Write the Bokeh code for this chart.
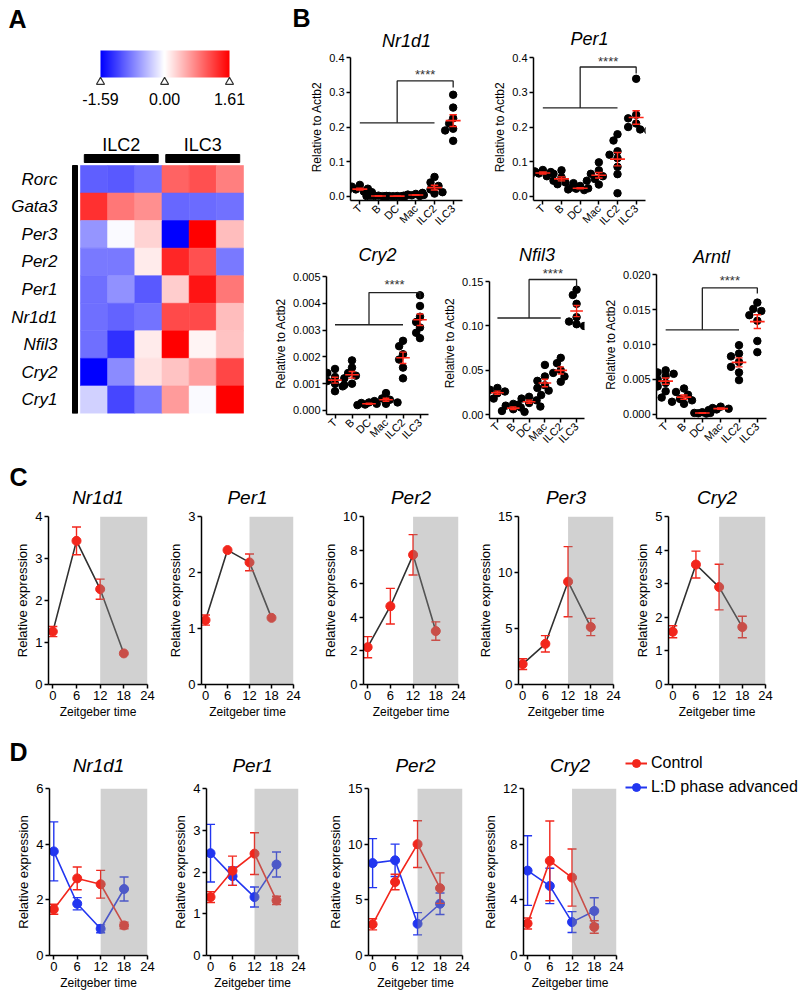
import math
import numpy as np
from bokeh.plotting import figure
from bokeh.layouts import row, column
from bokeh.models import (Range1d, FixedTicker, NumeralTickFormatter, LinearColorMapper,
                          BoxAnnotation, Label, Legend, LegendItem, ColumnDataSource, Title)
from bokeh.core.properties import value
from bokeh.embed import file_html
from bokeh.resources import INLINE

FONT = "Liberation Sans"

# ======================= DATA =======================
# ---- Panel A : heatmap ----
heat_genes = ["Rorc", "Gata3", "Per3", "Per2", "Per1", "Nr1d1", "Nfil3", "Cry2", "Cry1"]
heat_groups = ["ILC2", "ILC3"]
heat_col_group = [0, 0, 0, 1, 1, 1]
heat_values = [
    [-1.00, -1.03, -0.90, 0.98, 1.10, 0.80],   # Rorc
    [1.30, 0.85, 0.70, -0.95, -0.92, -0.88],   # Gata3
    [-0.66, -0.03, 0.28, -1.59, 1.61, 0.41],   # Per3
    [-0.84, -0.84, 0.13, 1.36, 1.10, -0.84],   # Per2
    [-0.90, -0.69, -1.03, 0.32, 1.48, 0.85],   # Per1
    [-0.90, -0.97, -0.87, 1.14, 1.14, 0.41],   # Nr1d1
    [-0.90, -1.28, 0.13, 1.61, 0.06, 0.38],    # Nfil3
    [-1.59, -0.72, 0.19, 0.38, 0.60, 1.17],    # Cry2
    [-0.28, -1.15, -0.84, 0.63, -0.03, 1.61],  # Cry1
]
cbar_low, cbar_high = -1.59, 1.61
cbar_ticks = [-1.59, 0.0, 1.61]
cbar_labels = ["-1.59", "0.00", "1.61"]

# ---- Panel B : relative to Actb2 ----
b_cells = ["T", "B", "DC", "Mac", "ILC2", "ILC3"]
b_compare_left = ["T", "B", "DC", "Mac", "ILC2"]
b_compare_right = "ILC3"
b_nr1d1 = [
    [0.033, 0.028, 0.022, 0.020, 0.016, 0.014, 0.012],
    [0.002, 0.0015, 0.001, 0.001, 0.0008, 0.0005],
    [0.001, 0.0008, 0.0006, 0.0005, 0.0004, 0.0003],
    [0.007, 0.005, 0.004, 0.003, 0.002, 0.001],
    [0.056, 0.040, 0.030, 0.020, 0.012, 0.008, 0.010],
    [0.293, 0.256, 0.225, 0.210, 0.195, 0.190, 0.160],
]
b_nr1d1_bracket = [0.212, 0.333, 0.314]
b_nr1d1_star = 0.352
b_nr1d1_ticks = [0.0, 0.1, 0.2, 0.3, 0.4]

b_per1 = [
    [0.076, 0.072, 0.070, 0.066, 0.062, 0.058],
    [0.075, 0.065, 0.055, 0.045, 0.040, 0.035, 0.038],
    [0.030, 0.026, 0.023, 0.020, 0.018, 0.022],
    [0.098, 0.075, 0.065, 0.058, 0.050, 0.045, 0.034],
    [0.179, 0.161, 0.130, 0.110, 0.085, 0.064, 0.009, 0.120],
    [0.339, 0.235, 0.225, 0.210, 0.200, 0.193, 0.190],
]
b_per1_bracket = [0.255, 0.373, 0.354]
b_per1_star = 0.390
b_per1_ticks = [0.0, 0.1, 0.2, 0.3, 0.4]

b_cry2 = [
    [0.00155, 0.0014, 0.00125, 0.0011, 0.0010, 0.0009, 0.00072],
    [0.00187, 0.0016, 0.0014, 0.0013, 0.0012, 0.0010, 0.00095],
    [0.0003, 0.00028, 0.00025, 0.00022, 0.0002],
    [0.00065, 0.00045, 0.0004, 0.0003, 0.00025, 0.00035],
    [0.0026, 0.0024, 0.0021, 0.0019, 0.0016, 0.0012],
    [0.0043, 0.0039, 0.0035, 0.0033, 0.0031, 0.0029, 0.0027],
]
b_cry2_bracket = [0.0032, 0.0044, 0.0042]
b_cry2_star = 0.0047
b_cry2_ticks = [0.0, 0.001, 0.002, 0.003, 0.004, 0.005]

b_nfil3 = [
    [0.030, 0.028, 0.026, 0.024, 0.022, 0.018],
    [0.012, 0.010, 0.008, 0.006, 0.004, 0.003],
    [0.020, 0.018, 0.016, 0.013, 0.011, 0.009],
    [0.056, 0.043, 0.038, 0.033, 0.030, 0.027, 0.022],
    [0.064, 0.058, 0.050, 0.047, 0.043, 0.037],
    [0.141, 0.135, 0.125, 0.110, 0.105, 0.100, 0.102],
]
b_nfil3_bracket = [0.109, 0.1525, 0.143]
b_nfil3_star = 0.159
b_nfil3_ticks = [0.0, 0.05, 0.10, 0.15]

b_arntl = [
    [0.0063, 0.0060, 0.0058, 0.0055, 0.0050, 0.0045, 0.0040, 0.0033, 0.0024],
    [0.0037, 0.0032, 0.0028, 0.0022, 0.0018, 0.0015, 0.0020],
    [0.0003, 0.0002, 0.0001, 0.0002, 0.00015],
    [0.0011, 0.0009, 0.0008, 0.0007, 0.0006],
    [0.0099, 0.0087, 0.0083, 0.0075, 0.0068, 0.0060, 0.0049],
    [0.0160, 0.0151, 0.0148, 0.0142, 0.0134, 0.0105, 0.0089],
]
b_arntl_bracket = [0.0121, 0.0181, 0.0173]
b_arntl_star = 0.0192
b_arntl_ticks = [0.0, 0.005, 0.010, 0.015, 0.020]

# ---- Panel C : Zeitgeber time course ----
zt = [0, 6, 12, 18]
zt_ticks = [0, 6, 12, 18, 24]
dark_phase = (12, 24)
c_nr1d1_mean = [1.26, 3.42, 2.27, 0.74]
c_nr1d1_sem = [0.12, 0.33, 0.24, 0.0]
c_nr1d1_ticks = [0, 1, 2, 3, 4]
c_per1_mean = [1.15, 2.40, 2.18, 1.19]
c_per1_sem = [0.09, 0.0, 0.15, 0.0]
c_per1_ticks = [0, 1, 2, 3]
c_per2_mean = [2.22, 4.66, 7.72, 3.18]
c_per2_sem = [0.63, 1.06, 1.20, 0.55]
c_per2_ticks = [0, 2, 4, 6, 8, 10]
c_per3_mean = [1.82, 3.63, 9.18, 5.13]
c_per3_sem = [0.48, 0.73, 3.13, 0.77]
c_per3_ticks = [0, 5, 10, 15]
c_cry2_mean = [1.57, 3.57, 2.90, 1.71]
c_cry2_sem = [0.18, 0.40, 0.68, 0.32]
c_cry2_ticks = [0, 1, 2, 3, 4, 5]

# ---- Panel D : control vs L:D phase advanced ----
d_series = ["Control", "L:D phase advanced"]
d_nr1d1_ctrl_mean = [1.66, 2.77, 2.56, 1.08]
d_nr1d1_ctrl_sem = [0.18, 0.41, 0.50, 0.12]
d_nr1d1_adv_mean = [3.74, 1.86, 0.96, 2.39]
d_nr1d1_adv_sem = [1.06, 0.22, 0.14, 0.43]
d_nr1d1_ticks = [0, 2, 4, 6]
d_per1_ctrl_mean = [1.40, 2.03, 2.44, 1.32]
d_per1_ctrl_sem = [0.13, 0.35, 0.50, 0.10]
d_per1_adv_mean = [2.45, 1.90, 1.40, 2.18]
d_per1_adv_sem = [0.69, 0.22, 0.24, 0.30]
d_per1_ticks = [0, 1, 2, 3, 4]
d_per2_ctrl_mean = [2.80, 6.60, 10.0, 6.05]
d_per2_ctrl_sem = [0.50, 0.70, 2.10, 1.37]
d_per2_adv_mean = [8.30, 8.55, 2.85, 4.65]
d_per2_adv_sem = [2.20, 1.45, 1.00, 0.97]
d_per2_ticks = [0, 5, 10, 15]
d_cry2_ctrl_mean = [2.30, 6.80, 5.60, 2.05]
d_cry2_ctrl_sem = [0.40, 2.87, 2.05, 0.45]
d_cry2_adv_mean = [6.10, 5.00, 2.40, 3.20]
d_cry2_adv_sem = [2.50, 1.27, 0.75, 0.95]
d_cry2_ticks = [0, 4, 8, 12]

# ======================= STYLE =======================
RED_B = "#ff2618"
RED = "#f2261c"
BLUE = "#2236f0"
LINE_C = "#303030"
BAND = "#8c8c8c"


def make_fig(box, frame, xr, yr, x_axis=True, y_axis=True, title=False):
    bx0, by0, bx1, by1 = [int(round(v)) for v in box]
    fx0, fy0, fx1, fy1 = [int(round(v)) for v in frame]
    kw = {}
    if not title:
        kw["title_location"] = None
    p = figure(width=bx1 - bx0, height=by1 - by0, x_range=xr, y_range=yr,
               x_axis_location="below" if x_axis else None,
               y_axis_location="left" if y_axis else None,
               min_border_left=fx0 - bx0, min_border_right=bx1 - fx1,
               min_border_top=fy0 - by0, min_border_bottom=by1 - fy1,
               toolbar_location=None, output_backend="svg", **kw)
    try:
        p.frame_align = False
    except Exception:
        pass
    p.grid.visible = False
    p.outline_line_color = None
    p.background_fill_color = "white"
    p.border_fill_color = "white"
    return p


def style_axes(p, tick_size, label_size):
    for ax in p.axis:
        ax.axis_line_color = "black"
        ax.axis_line_width = 1.5
        ax.major_tick_line_color = "black"
        ax.major_tick_line_width = 1.5
        ax.major_tick_in = 0
        ax.major_tick_out = 4
        ax.minor_tick_line_color = None
        ax.major_label_text_font = FONT
        ax.major_label_text_font_size = tick_size
        ax.major_label_text_color = "black"
        ax.axis_label_text_font = FONT
        ax.axis_label_text_font_size = label_size
        ax.axis_label_text_font_style = "normal"
        ax.axis_label_text_color = "black"
        ax.major_label_standoff = 2
        ax.axis_label_standoff = 2


def set_titles(p, frame, gene, size_px, center_g, letter=None):
    """gene title centred over the frame; optional bold panel letter stacked outside it.
    A title's text bottom sits standoff/2 above its panel bottom."""
    s_g = max(0, int(round(2 * (frame[1] - center_g - 0.58 * size_px))))
    gt = Title(text=gene, align="center", text_font=FONT, text_font_style="italic",
               text_font_size="%dpx" % size_px, text_color="black", standoff=s_g)
    if letter is None:
        p.title = gt
        return
    p.add_layout(gt, "above")
    ltext, lx, ly = letter
    gene_top = frame[1] - (2 + 1.15 * size_px + s_g)
    s_l = int(round(2 * (gene_top - 14 - ly)))
    p.title = Title(text=ltext, align="left", offset=int(lx - frame[0] - 8), text_font=FONT,
                    text_font_size="25px", text_font_style="bold", text_color="black",
                    standoff=s_l)


def bwr_palette(low, high, n=256):
    t0 = (0 - low) / (high - low)
    pal = []
    for i in range(n):
        t = i / (n - 1)
        if t <= t0:
            f = t / t0
            r = g = int(round(255 * f)); b = 255
        else:
            f = (t - t0) / (1 - t0)
            r = 255; g = b = int(round(255 * (1 - f)))
        pal.append("#%02x%02x%02x" % (r, g, b))
    return pal


mapper = LinearColorMapper(palette=bwr_palette(cbar_low, cbar_high), low=cbar_low, high=cbar_high)

# ======================= PANEL A =======================
cb_box = (0, 0, 270, 112)
cb_px = (229 - 100) / (cbar_high - cbar_low)      # px per unit along the bar
cb_h = 27.0                                        # bar height in px
cb_xr = Range1d(cbar_low - (100 - cb_box[0]) / cb_px, cbar_high + (cb_box[2] - 229) / cb_px)
cb_yr = Range1d(-(cb_box[3] - 77) / cb_h, 1 + (50 - cb_box[1]) / cb_h)
cbar = make_fig(cb_box, cb_box, cb_xr, cb_yr, x_axis=False, y_axis=False)
grad = np.linspace(cbar_low, cbar_high, 256).reshape(1, -1)
cbar.image(image=[grad], x=cbar_low, y=0, dw=cbar_high - cbar_low, dh=1, color_mapper=mapper)
cbar.scatter(x=cbar_ticks, y=[-4.5 / cb_h] * 3, marker="triangle", size=8,
             fill_color="white", line_color="#333333", line_width=1.2)
cbar.text(x=cbar_ticks, y=[-21 / cb_h] * 3, text=cbar_labels, text_font=value(FONT),
          text_font_size=value("16px"), text_align="center", text_baseline="middle",
          text_color="black")
cbar.add_layout(Label(x=17 - cb_box[0], y=cb_box[3] - 18, x_units="screen", y_units="screen",
                      text="A", text_font=FONT, text_font_size="25px", text_font_style="bold",
                      text_color="black", text_align="center", text_baseline="middle"))

h_box = (0, 112, 270, 452)
h_frame = (70, 130, 245, 413)
cw = (243 - 80) / 6.0
ch = (413 - 165) / 9.0
n_rows = len(heat_genes)
h_xr = Range1d(-0.5 - (80 - 70) / cw, 5.5 + (245 - 243) / cw)
h_yr = Range1d(0.5, n_rows + 0.5 + (165 - 130) / ch)
heat = make_fig(h_box, h_frame, h_xr, h_yr, x_axis=False, y_axis=True)
hx, hy, hv = [], [], []
for r, g in enumerate(heat_genes):
    for c, v in enumerate(heat_values[r]):
        hx.append(c); hy.append(n_rows - r); hv.append(v)
hsrc = ColumnDataSource(dict(x=hx, y=hy, v=hv))
heat.rect(x="x", y="y", width=1, height=1, source=hsrc,
          fill_color={"field": "v", "transform": mapper},
          line_color={"field": "v", "transform": mapper}, line_width=0.6)
heat.quad(left=[-0.5 - 8 / cw], right=[-0.5 - 3 / cw], bottom=[0.5], top=[n_rows + 0.5], color="black")
for gi, gname in enumerate(heat_groups):
    cols = [i for i, c in enumerate(heat_col_group) if c == gi]
    heat.quad(left=[min(cols) - 0.5 + 0.14], right=[max(cols) + 0.5 - 0.14],
              bottom=[n_rows + 0.5 + 3 / ch], top=[n_rows + 0.5 + 11 / ch], color="black")
    heat.text(x=[float(np.mean(cols))], y=[n_rows + 0.5 + 21 / ch], text=[gname],
              text_font=value(FONT), text_font_size=value("18px"), text_align="center",
              text_baseline="middle", text_color="black")
ya = heat.yaxis[0]
ya.ticker = FixedTicker(ticks=list(range(1, n_rows + 1)))
ya.major_label_overrides = {n_rows - i: g for i, g in enumerate(heat_genes)}
ya.axis_line_color = None
ya.major_tick_line_color = None
ya.minor_tick_line_color = None
ya.major_tick_out = 0
ya.major_tick_in = 0
ya.major_label_standoff = 13
ya.major_label_text_font = FONT
ya.major_label_text_font_size = "17px"
ya.major_label_text_font_style = "italic"
ya.major_label_text_color = "black"


# ======================= PANEL B =======================
def swarm_offsets(vals, px_per_unit, px_per_cat, diam=6.5):
    vals = np.asarray(vals, float)
    order = np.argsort(-vals, kind="stable")
    placed = []
    offs = np.zeros(len(vals))
    cands = [0.0, -4.0, 4.0, -8.0, 8.0, -12.0, 12.0]
    for i in order:
        ypx = vals[i] * px_per_unit
        best, best_d = cands[0], -1.0
        for c in cands:
            d = min([math.hypot(c - px, ypx - py) for px, py in placed] or [1e9])
            if d >= diam:
                best = c
                break
            if d > best_d:
                best, best_d = c, d
        placed.append((best, ypx))
        offs[i] = best / px_per_cat
    return offs


def panel_b(gene, groups, bracket, star_y, ticks, fmt, box, fx, zero_y, top_y, hi, title_c, letter=None):
    top = ticks[-1]
    lo = -0.03 * top
    span = zero_y - top_y
    frame = (fx[0], round(zero_y - hi * span), fx[1], round(zero_y + 0.03 * span))
    p = make_fig(box, frame, Range1d(-0.5, len(b_cells) - 0.5), Range1d(lo, hi * top), title=True)
    set_titles(p, frame, gene, 18, title_c, letter)
    style_axes(p, "11px", "12px")
    p.yaxis.ticker = FixedTicker(ticks=ticks)
    p.yaxis.formatter = NumeralTickFormatter(format=fmt)
    p.yaxis.bounds = (lo, top)
    p.yaxis.axis_label = "Relative to Actb2"
    p.xaxis.ticker = FixedTicker(ticks=list(range(len(b_cells))))
    p.xaxis.major_label_overrides = {i: c for i, c in enumerate(b_cells)}
    p.xaxis.major_label_orientation = math.pi / 4
    p.xaxis.major_label_text_font_size = "11px"
    fh = frame[3] - frame[1]
    fw = fx[1] - fx[0]
    ppu = fh / ((hi + 0.03) * top)
    ppc = fw / len(b_cells)
    xs, ys = [], []
    for i, vals in enumerate(groups):
        offs = swarm_offsets(vals, ppu, ppc)
        xs += list(i + offs)
        ys += list(vals)
    p.scatter(xs, ys, size=7.5, color="black")
    idx = np.arange(len(groups))
    means = np.array([np.mean(v) for v in groups])
    sems = np.array([np.std(v, ddof=1) / np.sqrt(len(v)) for v in groups])
    p.segment(x0=idx - 0.4, x1=idx + 0.4, y0=means, y1=means, line_color=RED_B, line_width=1.6)
    p.segment(x0=idx, x1=idx, y0=means - sems, y1=means + sems, line_color=RED_B, line_width=1.4)
    p.segment(x0=idx - 0.2, x1=idx + 0.2, y0=means + sems, y1=means + sems, line_color=RED_B, line_width=1.4)
    p.segment(x0=idx - 0.2, x1=idx + 0.2, y0=means - sems, y1=means - sems, line_color=RED_B, line_width=1.4)
    li = [b_cells.index(c) for c in b_compare_left]
    ri = b_cells.index(b_compare_right)
    x_lo, x_hi = min(li), max(li)
    x_mid = (x_lo + x_hi) / 2
    h1, h2, h3 = bracket
    p.line([x_lo, x_hi], [h1, h1], line_color="#222222", line_width=1.3)
    p.line([x_mid, x_mid, ri, ri], [h1, h2, h2, h3], line_color="#222222", line_width=1.3)
    p.text(x=[(x_mid + ri) / 2], y=[star_y], text=["****"], text_font=value(FONT),
           text_font_size=value("13px"), text_align="center", text_baseline="middle",
           text_color="#333333")
    return p


B_SPLIT = 234
b1 = panel_b("Nr1d1", b_nr1d1, b_nr1d1_bracket, b_nr1d1_star, b_nr1d1_ticks, "0.0",
             (270, 0, 485, B_SPLIT), (350, 462), 200, 57, 1.03, 40, letter=("B", 300, 17))
b2 = panel_b("Per1", b_per1, b_per1_bracket, b_per1_star, b_per1_ticks, "0.0",
             (485, 0, 798, B_SPLIT), (533, 645), 200, 57, 1.03, 38)
b3 = panel_b("Cry2", b_cry2, b_cry2_bracket, b_cry2_star, b_cry2_ticks, "0.000",
             (270, B_SPLIT, 440, 452), (322, 428), 410, 276, 1.03, 254)
b4 = panel_b("Nfil3", b_nfil3, b_nfil3_bracket, b_nfil3_star, b_nfil3_ticks, "0.00",
             (440, B_SPLIT, 600, 452), (483, 584), 418, 282, 1.107, 254)
b5 = panel_b("Arntl", b_arntl, b_arntl_bracket, b_arntl_star, b_arntl_ticks, "0.000",
             (600, B_SPLIT, 798, 452), (656, 766), 418, 274, 1.03, 256)


# ======================= PANELS C & D =======================
def panel_time(gene, series, ticks, box, frame, title_c, letter=None):
    p = make_fig(box, frame, Range1d(-1.1, zt_ticks[-1]), Range1d(0, ticks[-1]), title=True)
    set_titles(p, frame, gene, 19, title_c, letter)
    style_axes(p, "13px", "13px")
    p.xaxis.ticker = FixedTicker(ticks=zt_ticks)
    p.yaxis.ticker = FixedTicker(ticks=ticks)
    p.xaxis.axis_label = "Zeitgeber time"
    p.xaxis.axis_label_text_font_size = "12px"
    p.yaxis.axis_label = "Relative expression"
    for mean, sem, lc, pc in series:
        m = np.array(mean, float)
        s = np.array(sem, float)
        x = np.array(zt, float)
        p.line(x, m, line_color=lc, line_width=1.6)
        k = s > 0
        p.segment(x0=x[k], x1=x[k], y0=(m - s)[k], y1=(m + s)[k], line_color=pc, line_width=1.4)
        p.scatter(x[k], (m + s)[k], marker="dash", size=9, line_color=pc, line_width=1.4)
        p.scatter(x[k], (m - s)[k], marker="dash", size=9, line_color=pc, line_width=1.4)
        p.scatter(x, m, size=9, color=pc)
    p.add_layout(BoxAnnotation(left=dark_phase[0], right=dark_phase[1], fill_color=BAND,
                               fill_alpha=0.4, line_color=None))
    return p


c_y = (452, 723)
c_fy = (516, 684)
c_specs = [
    ("Nr1d1", c_nr1d1_mean, c_nr1d1_sem, c_nr1d1_ticks, (0, 165), (48, 147)),
    ("Per1", c_per1_mean, c_per1_sem, c_per1_ticks, (165, 320), (198, 293)),
    ("Per2", c_per2_mean, c_per2_sem, c_per2_ticks, (320, 475), (361, 458)),
    ("Per3", c_per3_mean, c_per3_sem, c_per3_ticks, (475, 630), (516, 613)),
    ("Cry2", c_cry2_mean, c_cry2_sem, c_cry2_ticks, (630, 798), (668, 765)),
]
c_figs = []
for i, (g, m, s, t, bx, fx) in enumerate(c_specs):
    c_figs.append(panel_time(g, [(m, s, LINE_C, RED)], t,
                             (bx[0], c_y[0], bx[1], c_y[1]), (fx[0], c_fy[0], fx[1], c_fy[1]), 496,
                             letter=("C", 17, 475) if i == 0 else None))

d_y = (723, 993)
d_fy = (788, 955)
d_specs = [
    ("Nr1d1", d_nr1d1_ctrl_mean, d_nr1d1_ctrl_sem, d_nr1d1_adv_mean, d_nr1d1_adv_sem, d_nr1d1_ticks, (0, 170), (49, 147)),
    ("Per1", d_per1_ctrl_mean, d_per1_ctrl_sem, d_per1_adv_mean, d_per1_adv_sem, d_per1_ticks, (170, 325), (201, 298)),
    ("Per2", d_per2_ctrl_mean, d_per2_ctrl_sem, d_per2_adv_mean, d_per2_adv_sem, d_per2_ticks, (325, 480), (364, 462)),
    ("Cry2", d_cry2_ctrl_mean, d_cry2_ctrl_sem, d_cry2_adv_mean, d_cry2_adv_sem, d_cry2_ticks, (480, 625), (518, 616)),
]
d_figs = []
for i, (g, cm, cs, am, asem, t, bx, fx) in enumerate(d_specs):
    d_figs.append(panel_time(g, [(am, asem, BLUE, BLUE), (cm, cs, RED, RED)], t,
                             (bx[0], d_y[0], bx[1], d_y[1]), (fx[0], d_fy[0], fx[1], d_fy[1]), 764,
                             letter=("D", 17, 750) if i == 0 else None))

# legend figure (renderers carry no drawable point; only their legend glyphs show)
lg_box = (625, d_y[0], 798, d_y[1])
leg = make_fig(lg_box, lg_box, Range1d(0, 1), Range1d(0, 1), x_axis=False, y_axis=False)
items = []
nan1 = np.array([np.nan])
for name, col in zip(d_series, [RED, BLUE]):
    rl = leg.line(x=nan1, y=nan1, line_color=col, line_width=2)
    rp = leg.scatter(x=nan1, y=nan1, size=9, color=col)
    items.append(LegendItem(label=name, renderers=[rl, rp]))
lg_h = lg_box[3] - lg_box[1]
legend = Legend(items=items, location=(0, lg_h - 30 - 44), orientation="vertical",
                border_line_color=None, background_fill_alpha=0, padding=0, margin=0,
                spacing=4, glyph_width=22, glyph_height=20, label_height=20,
                label_standoff=4, label_text_font=FONT, label_text_font_size="16px",
                label_text_color="black")
leg.add_layout(legend)

# ======================= LAYOUT =======================
colA = column(cbar, heat)
colB = column(row(b1, b2), row(b3, b4, b5))
page = column(row(colA, colB), row(*c_figs), row(*d_figs, leg))

open("out.html", "w").write(file_html(page, INLINE))
